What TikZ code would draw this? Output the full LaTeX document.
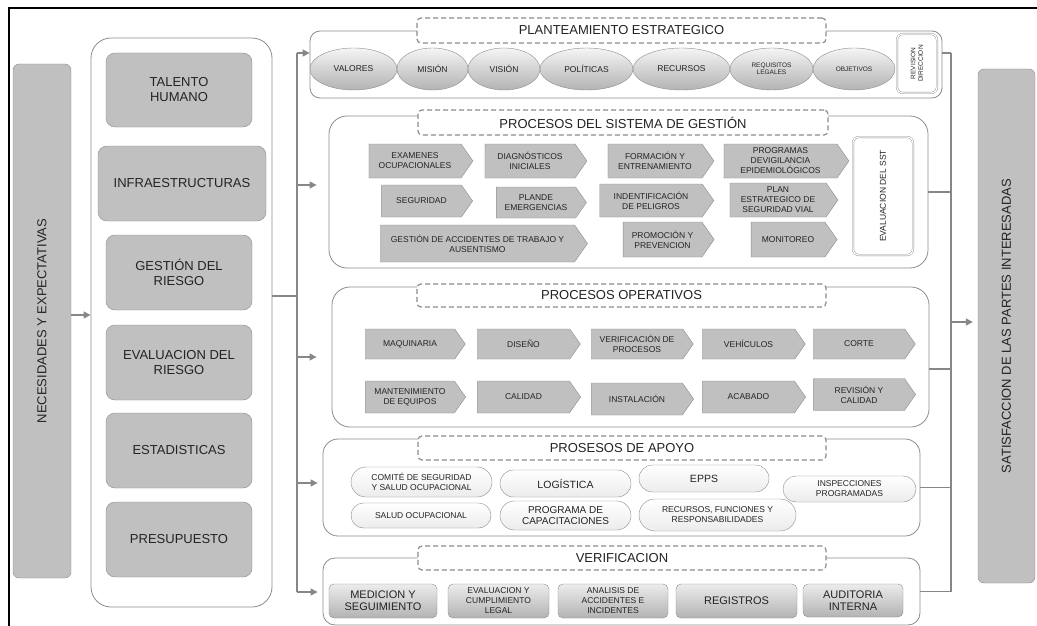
\documentclass[tikz,border=0pt]{standalone}
\usepackage{fontspec}
\setmainfont{Liberation Sans}
\usetikzlibrary{arrows.meta,shapes.geometric,shapes.symbols,shapes.misc}
\definecolor{relleno}{RGB}{192,192,192}
\definecolor{borde}{RGB}{140,140,140}
\definecolor{linea}{RGB}{135,135,135}
\definecolor{texto}{RGB}{35,35,35}
\newcommand{\fgrande}{\fontsize{13}{15}\selectfont}
\newcommand{\fmedia}{\fontsize{10.5}{11.5}\selectfont}
\newcommand{\fpeq}{\fontsize{8.5}{10}\selectfont}
\newcommand{\fmini}{\fontsize{6.5}{7.5}\selectfont}
\begin{document}
\begin{tikzpicture}[x=1pt,y=-1pt,
    every node/.style={text=texto, align=center, inner sep=1pt},
    caja/.style={draw=borde, fill=relleno, rounded corners=9pt, font=\fgrande},
    lateral/.style={caja, rotate=90, rounded corners=6pt},
    seccion/.style={draw=borde, line width=0.8pt, fill=white, rounded corners=18pt},
    titulo/.style={draw=borde, line width=1.2pt, dash pattern=on 5pt off 3pt, fill=white, rounded corners=4pt, font=\fgrande},
    elipse/.style={ellipse, draw=borde, top color=gray!8, bottom color=gray!60, font=\fpeq},
    paso/.style={signal, signal to=east, signal pointer angle=110, draw=borde, fill=relleno, font=\fpeq, xshift=-5pt},
    pildora/.style={rounded rectangle, draw=borde, top color=white, bottom color=gray!15, font=\fpeq},
    verif/.style={draw=borde, rounded corners=5pt, top color=gray!15, bottom color=gray!60, font=\fpeq},
    doble/.style={draw=borde, double=white, double distance=1.2pt, rounded corners=6pt, fill=white, rotate=90},
    conn/.style={draw=linea, line width=1.3pt},
    flecha/.style={conn, -{Triangle[length=7pt,width=7pt]}}]
    \useasboundingbox (0,0) rectangle (1037,626);
    % Frame
    \draw[line width=1.6pt] (9,626) -- (9,8) -- (1037,8);
    % Left side
    \node[lateral, minimum width=514, minimum height=58] (necesidades) at (42,321) {NECESIDADES Y EXPECTATIVAS};
    \node[seccion, rounded corners=20pt, minimum width=181, minimum height=569] (recursos) at (181.5,322.5) {};
    \node[caja, minimum width=146, minimum height=74] (talento) at (179,90) {TALENTO\\HUMANO};
    \node[caja, minimum width=168, minimum height=75] (infra) at (182,183.5) {INFRAESTRUCTURAS};
    \node[caja, minimum width=146, minimum height=75] (gestion) at (179,272.5) {GESTIÓN DEL\\RIESGO};
    \node[caja, minimum width=146, minimum height=75] (evaluacion) at (179,362.5) {EVALUACION DEL\\RIESGO};
    \node[caja, minimum width=146, minimum height=75] (estadisticas) at (179,450.5) {ESTADISTICAS};
    \node[caja, minimum width=146, minimum height=75] (presupuesto) at (179,539.5) {PRESUPUESTO};
    \draw[flecha] ([yshift=6pt]necesidades.south) -- ([yshift=6pt]necesidades.south -| recursos.west);
    % Left bus
    \coordinate (bi1) at (297,53);
    \coordinate (bi2) at (297,185);
    \coordinate (bi3) at (297,357);
    \coordinate (bi4) at (297,483);
    \coordinate (bi5) at (297,592);
    \coordinate (bim) at (297,296);
    \draw[conn] (recursos.east |- bim) -- (bim);
    \draw[conn] (bi1) -- (bi5);
    % Sections
    \node[seccion, rounded corners=10pt, minimum width=632, minimum height=67] (plant) at (626,64.5) {};
    \node[seccion, minimum width=599, minimum height=152] (sistema) at (628.5,192) {};
    \node[seccion, minimum width=597, minimum height=140] (operativos) at (630.5,357) {};
    \node[seccion, rounded corners=15pt, minimum width=597, minimum height=97] (apoyo) at (621.5,487.5) {};
    \node[seccion, rounded corners=12pt, minimum width=597, minimum height=67] (verificacion) at (621.5,591.5) {};
    \draw[flecha] (bi1) -- (bi1 -| plant.west);
    \draw[flecha, shorten >=12pt] (bi2) -- (bi2 -| sistema.west);
    \draw[flecha, shorten >=15pt] (bi3) -- (bi3 -| operativos.west);
    \draw[flecha, shorten >=5pt] (bi4) -- (bi4 -| apoyo.west);
    \draw[flecha, shorten >=5pt] (bi5) -- (bi5 -| verificacion.west);
    % Titles
    \node[titulo, minimum width=409, minimum height=25] (tplant) at (621.5,30.5) {PLANTEAMIENTO ESTRATEGICO};
    \node[titulo, minimum width=410, minimum height=25] (tsistema) at (623,122.5) {PROCESOS DEL SISTEMA DE GESTIÓN};
    \node[titulo, minimum width=409, minimum height=23] (toperativos) at (621.5,295.5) {PROCESOS OPERATIVOS};
    \node[titulo, minimum width=408, minimum height=24] (tapoyo) at (622,448) {PROSESOS DE APOYO};
    \node[titulo, minimum width=408, minimum height=24] (tverificacion) at (622,558) {VERIFICACION};
    % Planteamiento estrategico
    \node[elipse, minimum width=87, minimum height=42] (valores) at (353.5,69) {VALORES};
    \node[elipse, minimum width=71, minimum height=42] (mision) at (432.5,69) {MISIÓN};
    \node[elipse, minimum width=72, minimum height=42] (vision) at (504,69) {VISIÓN};
    \node[elipse, minimum width=93, minimum height=42] (politicas) at (586.5,69) {POLÍTICAS};
    \node[elipse, minimum width=97, minimum height=42] (recursosp) at (681.5,69) {RECURSOS};
    \node[elipse, minimum width=83, minimum height=42, font=\fmini] (requisitos) at (771.5,69) {REQUISITOS\\LEGALES};
    \node[elipse, minimum width=82, minimum height=42, font=\fmini] (objetivos) at (854,69) {OBJETIVOS};
    \node[doble, minimum width=59, minimum height=40, font=\fmini] (revision) at (917,63.5) {REVISION\\DIRECCION};
    % Procesos del sistema de gestion
    \node[paso, minimum width=104, minimum height=34] (examenes) at (420,161) {EXAMENES\\OCUPACIONALES};
    \node[paso, minimum width=102, minimum height=34] (diagnosticos) at (535,161) {DIAGNÓSTICOS\\INICIALES};
    \node[paso, minimum width=106, minimum height=34] (formacion) at (660,161) {FORMACIÓN Y\\ENTRENAMIENTO};
    \node[paso, minimum width=125, minimum height=34] (programas) at (785.5,161) {PROGRAMAS\\DEVIGILANCIA\\EPIDEMIOLÓGICOS};
    \node[paso, minimum width=91, minimum height=32] (seguridad) at (426.5,201) {SEGURIDAD};
    \node[paso, minimum width=90, minimum height=31] (emergencias) at (541,202.5) {PLANDE\\EMERGENCIAS};
    \node[paso, minimum width=114, minimum height=33] (peligros) at (656,200.5) {INDENTIFICACIÓN\\DE PELIGROS};
    \node[paso, minimum width=108, minimum height=34] (vial) at (783,200) {PLAN\\ESTRATEGICO DE\\SEGURIDAD VIAL};
    \node[paso, minimum width=207, minimum height=37] (accidentes) at (482.5,243.5) {GESTIÓN DE ACCIDENTES DE TRABAJO Y\\AUSENTISMO};
    \node[paso, minimum width=91, minimum height=35] (promocion) at (667.5,239.5) {PROMOCIÓN Y\\PREVENCION};
    \node[paso, minimum width=86, minimum height=35] (monitoreo) at (793,239.5) {MONITOREO};
    \node[doble, minimum width=118, minimum height=60, font=\fpeq] (sst) at (883,196) {EVALUACION DEL SST};
    % Procesos operativos
    \node[paso, minimum width=100, minimum height=30] (maquinaria) at (415,344) {MAQUINARIA};
    \node[paso, minimum width=103, minimum height=30] (diseno) at (528.5,344) {DISEÑO};
    \node[paso, minimum width=102, minimum height=30] (verifproc) at (642,344) {VERIFICACIÓN DE\\PROCESOS};
    \node[paso, minimum width=103, minimum height=30] (vehiculos) at (753.5,344) {VEHÍCULOS};
    \node[paso, minimum width=102, minimum height=30] (corte) at (864,344) {CORTE};
    \node[paso, minimum width=100, minimum height=32] (mantenimiento) at (415,397) {MANTENIMIENTO\\DE EQUIPOS};
    \node[paso, minimum width=103, minimum height=32] (calidad) at (528.5,397) {CALIDAD};
    \node[paso, minimum width=102, minimum height=32] (instalacion) at (642,399) {INSTALACIÓN};
    \node[paso, minimum width=103, minimum height=32] (acabado) at (753.5,397) {ACABADO};
    \node[paso, minimum width=102, minimum height=32] (revcalidad) at (864,394.5) {REVISIÓN Y\\CALIDAD};
    % Procesos de apoyo
    \node[pildora, minimum width=143, minimum height=30] (comite) at (421.5,482) {COMITÉ DE SEGURIDAD\\Y SALUD OCUPACIONAL};
    \node[pildora, minimum width=133, minimum height=27, font=\fmedia] (logistica) at (565.5,483.5) {LOGÍSTICA};
    \node[pildora, minimum width=132, minimum height=27, font=\fmedia] (epps) at (704,478.5) {EPPS};
    \node[pildora, minimum width=135, minimum height=26] (inspecciones) at (849.5,489) {INSPECCIONES\\PROGRAMADAS};
    \node[pildora, minimum width=142, minimum height=25] (salud) at (421,515.5) {SALUD OCUPACIONAL};
    \node[pildora, minimum width=133, minimum height=29, font=\fontsize{10}{11}\selectfont] (capacitaciones) at (565.5,515.5) {PROGRAMA DE\\CAPACITACIONES};
    \node[pildora, minimum width=159, minimum height=32] (funciones) at (717.5,515) {RECURSOS, FUNCIONES Y\\RESPONSABILIDADES};
    % Verificacion
    \node[verif, minimum width=108, minimum height=34, font=\fontsize{11}{12}\selectfont] (medicion) at (383,601) {MEDICION Y\\SEGUIMIENTO};
    \node[verif, minimum width=101, minimum height=34] (cumplimiento) at (498.5,601) {EVALUACION Y\\CUMPLIMIENTO\\LEGAL};
    \node[verif, minimum width=110, minimum height=34] (analisis) at (613,601) {ANALISIS DE\\ACCIDENTES E\\INCIDENTES};
    \node[verif, minimum width=121, minimum height=34, font=\fontsize{11}{12}\selectfont] (registros) at (736.5,601) {REGISTROS};
    \node[verif, minimum width=100, minimum height=33, font=\fontsize{11}{12}\selectfont] (auditoria) at (853,600.5) {AUDITORIA\\INTERNA};
    % Right bus
    \coordinate (bd1) at (951,53);
    \coordinate (bd3) at (951,369);
    \coordinate (bd5) at (951,592);
    \coordinate (bdm) at (951,322);
    \draw[conn] (bd1) -- (bd5);
    \draw[conn] (plant.east |- bd1) -- (bd1);
    \draw[conn] (sistema.east) -- (sistema.east -| bd1);
    \draw[conn] (operativos.east |- bd3) -- (bd3);
    \draw[conn] (apoyo.east) -- (apoyo.east -| bd1);
    \draw[conn] (verificacion.east) -- (verificacion.east -| bd1);
    \node[lateral, minimum width=514, minimum height=57] (satisfaccion) at (1006.5,326) {SATISFACCION DE LAS PARTES INTERESADAS};
    \draw[flecha, shorten >=5pt] (bdm) -- (bdm -| satisfaccion.north);
\end{tikzpicture}
\end{document}
